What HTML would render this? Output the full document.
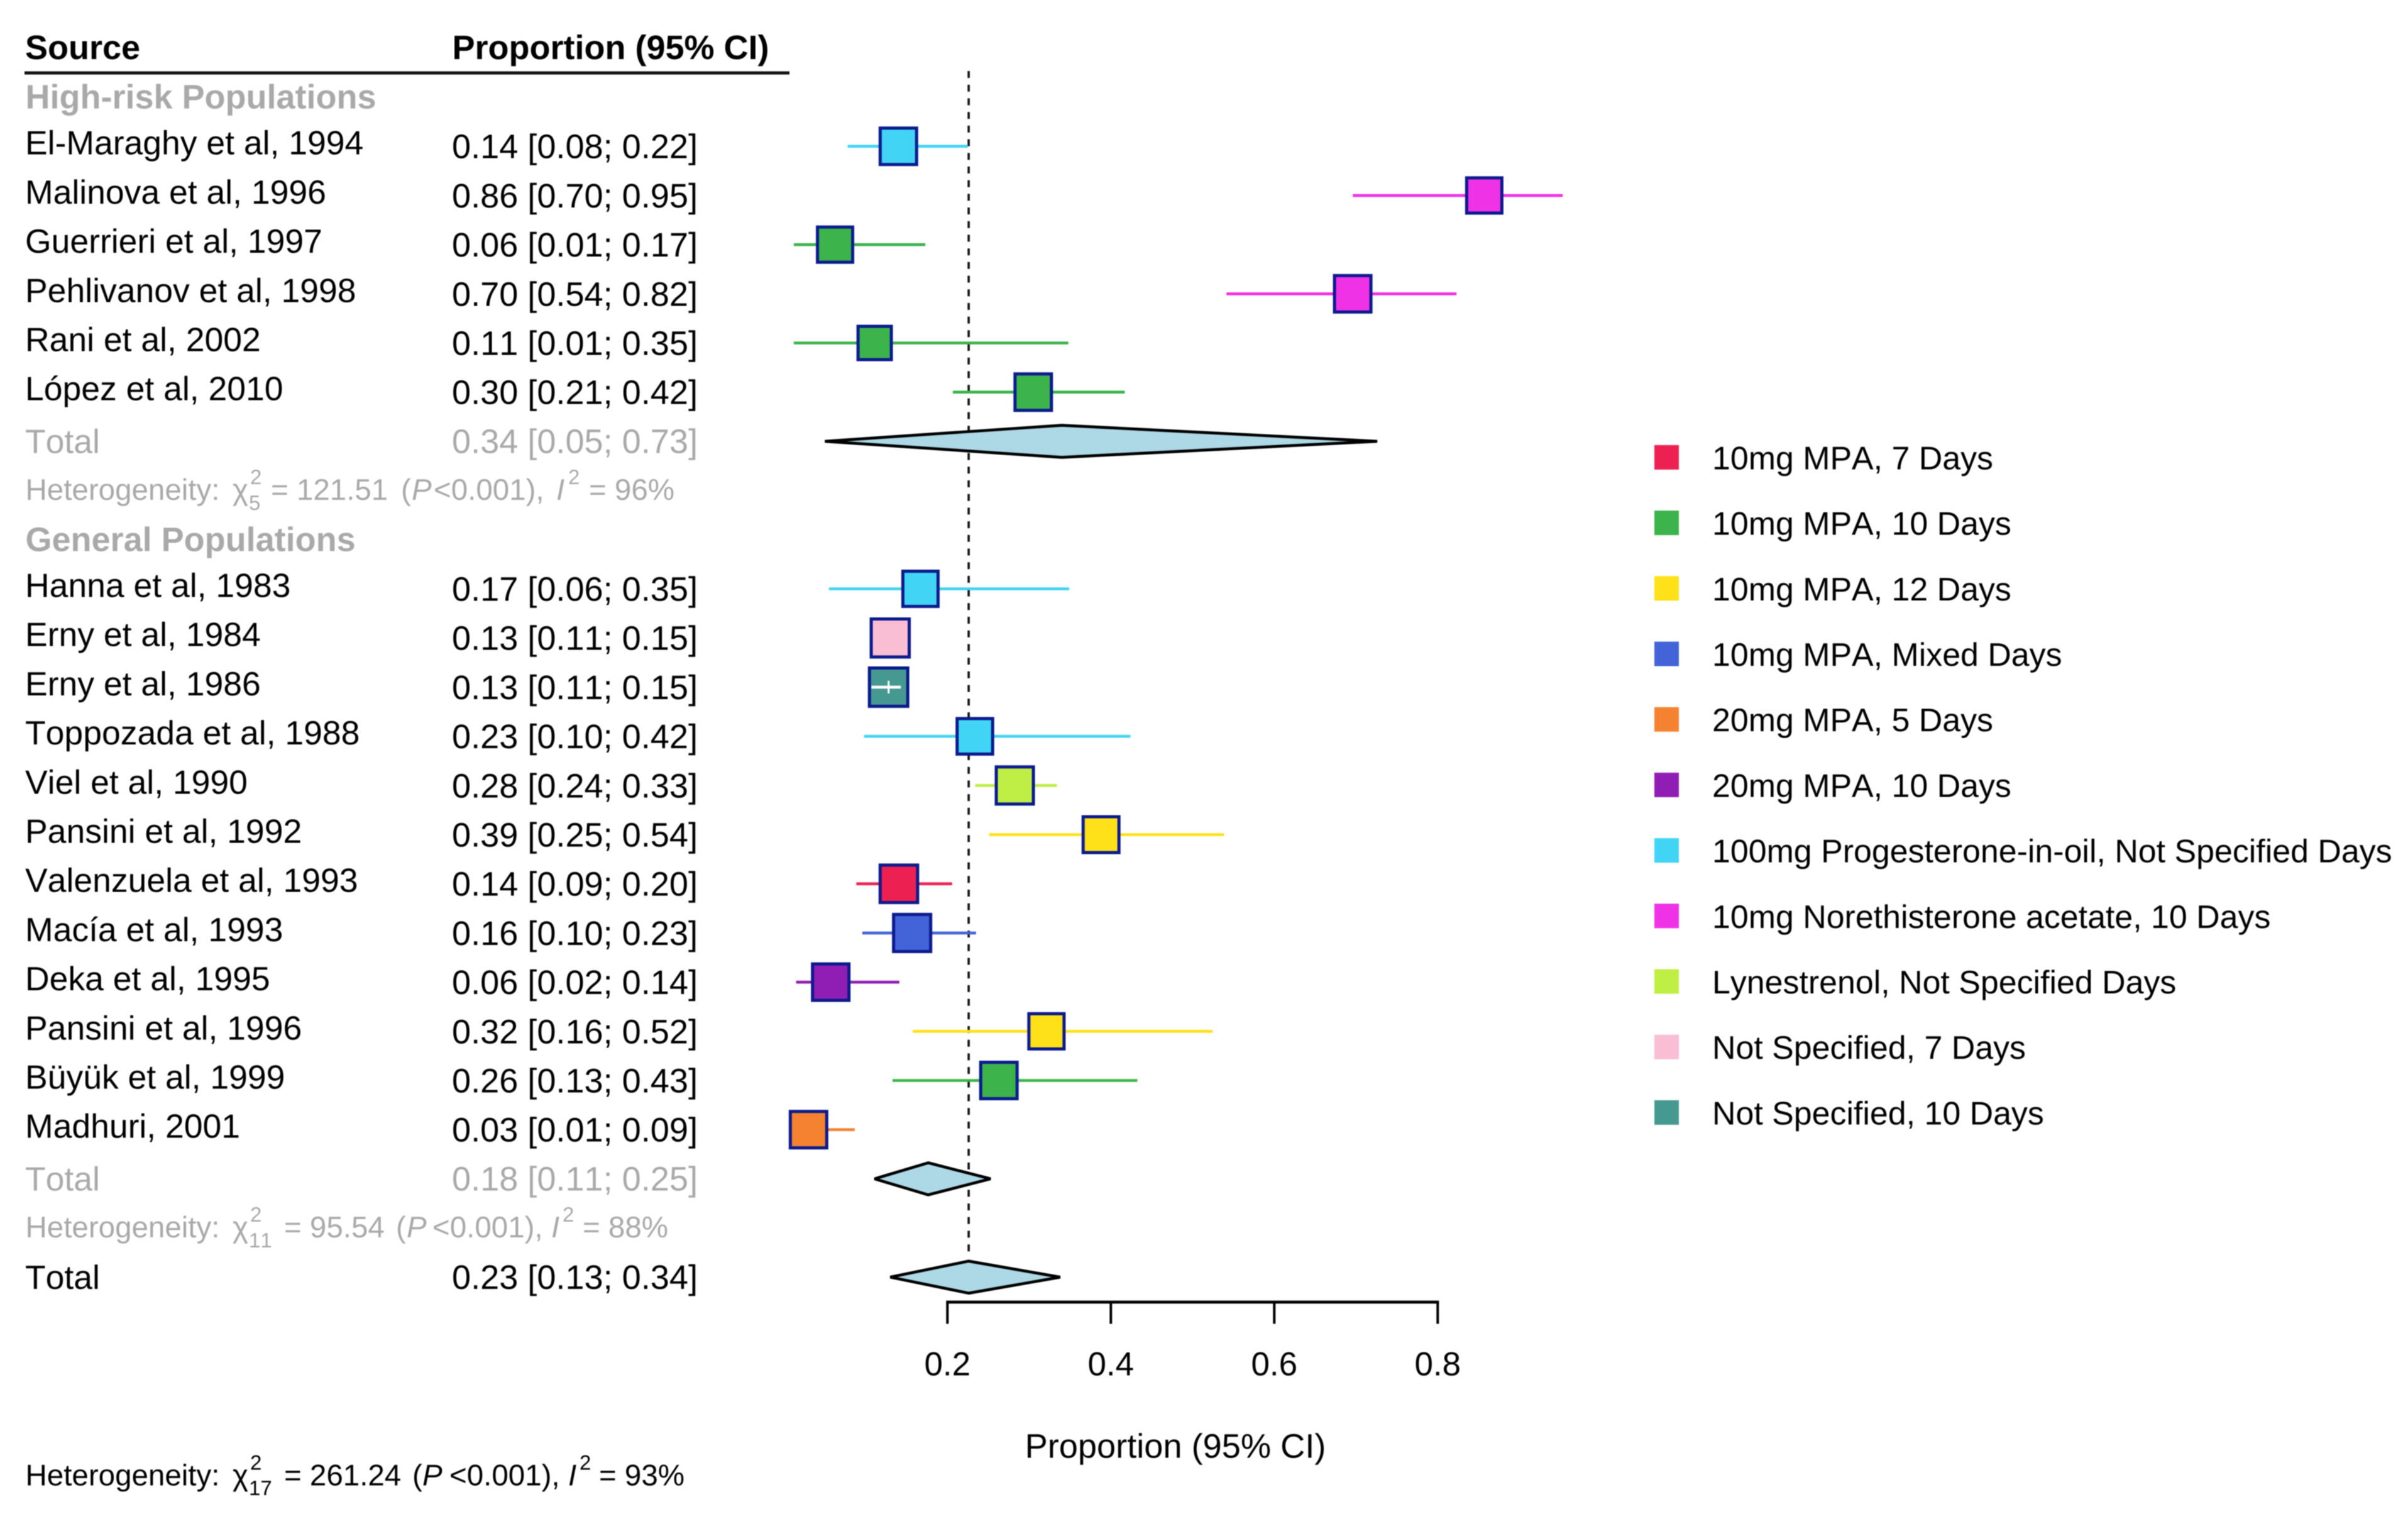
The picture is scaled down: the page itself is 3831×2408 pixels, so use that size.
<!DOCTYPE html>
<html lang="en">
<head>
<meta charset="utf-8">
<title>Forest plot of proportions</title>
<style>
html,body{margin:0;padding:0;background:#fff;}
svg{display:block;font-family:"Liberation Sans",sans-serif;text-rendering:geometricPrecision;font-kerning:none;filter:blur(0.8px);}
text{fill:#000;white-space:pre;}
.main{font-size:53.5px;}
.title{font-size:54.2px;}
.ci{font-size:54.1px;}
.head{font-size:54px;font-weight:700;}
.grey{fill:#a9a9a9;}
.het{font-size:47.5px;}
.mini{font-size:33px;}
.it{font-style:italic;}
.leg{font-size:51.9px;}
.tick{font-size:53px;text-anchor:middle;}
</style>
</head>
<body>
<svg id="chart" width="3831" height="2408" viewBox="0 0 3831 2408" xmlns="http://www.w3.org/2000/svg">
  <rect x="0" y="0" width="3831" height="2408" fill="#fff"/>
  <text class="head" x="40" y="94">Source</text>
  <text class="head" x="719.5" y="94">Proportion (95% CI)</text>
  <rect x="39" y="113.5" width="1217" height="5" fill="#111"/>

  <g class="het">
    <text class="grey" x="40.5" y="795">Heterogeneity:</text>
    <text class="grey" x="370" y="795">χ</text>
    <text class="grey mini" x="398" y="770">2</text>
    <text class="grey mini" x="396" y="811">5</text>
    <text class="grey" x="431" y="795">= 121.51</text>
    <text class="grey" x="638" y="795">(</text>
    <text class="grey it" x="655" y="795">P</text>
    <text class="grey" x="690" y="795">&lt;0.001),</text>
    <text class="grey it" x="885" y="795">I</text>
    <text class="grey mini" x="904" y="770">2</text>
    <text class="grey" x="937" y="795">= 96%</text>
  </g>
  <g class="het">
    <text class="grey" x="40.5" y="1968">Heterogeneity:</text>
    <text class="grey" x="370" y="1968">χ</text>
    <text class="grey mini" x="398" y="1943">2</text>
    <text class="grey mini" x="396" y="1984">11</text>
    <text class="grey" x="452" y="1968">= 95.54</text>
    <text class="grey" x="630" y="1968">(</text>
    <text class="grey it" x="647" y="1968">P</text>
    <text class="grey" x="688" y="1968">&lt;0.001),</text>
    <text class="grey it" x="877" y="1968">I</text>
    <text class="grey mini" x="895" y="1943">2</text>
    <text class="grey" x="927" y="1968">= 88%</text>
  </g>
  <g class="het">
    <text x="40.5" y="2362.5">Heterogeneity:</text>
    <text x="370" y="2362.5">χ</text>
    <text class="mini" x="398" y="2337.5">2</text>
    <text class="mini" x="396" y="2378">17</text>
    <text x="452" y="2362.5">= 261.24</text>
    <text x="656" y="2362.5">(</text>
    <text class="it" x="672" y="2362.5">P</text>
    <text x="715" y="2362.5">&lt;0.001),</text>
    <text class="it" x="904" y="2362.5">I</text>
    <text class="mini" x="922" y="2337.5">2</text>
    <text x="953" y="2362.5">= 93%</text>
  </g>
  <text class="title" x="1870" y="2318.5" text-anchor="middle">Proportion (95% CI)</text>
</svg>
<script>
// ---- data ----
const groupNames = ['High-risk Populations', 'General Populations'];
const groupOf = [0,0,0,0,0,0,1,1,1,1,1,1,1,1,1,1,1,1];
const studies = ['El-Maraghy et al, 1994','Malinova et al, 1996','Guerrieri et al, 1997','Pehlivanov et al, 1998','Rani et al, 2002','López et al, 2010','Hanna et al, 1983','Erny et al, 1984','Erny et al, 1986','Toppozada et al, 1988','Viel et al, 1990','Pansini et al, 1992','Valenzuela et al, 1993','Macía et al, 1993','Deka et al, 1995','Pansini et al, 1996','Büyük et al, 1999','Madhuri, 2001'];
const estimates = [0.14,0.857,0.0625,0.696,0.111,0.305,0.167,0.13,0.128,0.2336,0.2825,0.388,0.1406,0.1568,0.0572,0.3212,0.263,0.03];
const lowers = [0.078,0.696,0.012,0.5415,0.012,0.2066,0.055,0.11,0.107,0.098,0.234,0.251,0.0885,0.0958,0.0148,0.1576,0.1328,0.01];
const uppers = [0.225,0.953,0.173,0.823,0.348,0.417,0.349,0.155,0.143,0.424,0.334,0.5386,0.2058,0.235,0.1412,0.5245,0.4324,0.0866];
const weights = [5.6,5.26,5.26,5.6,4.75,5.6,5.26,6.06,6.15,5.35,5.8,5.43,5.9,5.8,5.6,5.26,5.6,5.6];
const treatments = [6,7,1,7,1,1,6,9,10,6,8,2,0,3,5,2,1,4];
const printedCI = ['0.14 [0.08; 0.22]','0.86 [0.70; 0.95]','0.06 [0.01; 0.17]','0.70 [0.54; 0.82]','0.11 [0.01; 0.35]','0.30 [0.21; 0.42]','0.17 [0.06; 0.35]','0.13 [0.11; 0.15]','0.13 [0.11; 0.15]','0.23 [0.10; 0.42]','0.28 [0.24; 0.33]','0.39 [0.25; 0.54]','0.14 [0.09; 0.20]','0.16 [0.10; 0.23]','0.06 [0.02; 0.14]','0.32 [0.16; 0.52]','0.26 [0.13; 0.43]','0.03 [0.01; 0.09]'];
const pooledEstimates = [0.34,0.1765,0.226];
const pooledLowers = [0.05,0.1108,0.13];
const pooledUppers = [0.726,0.2528,0.338];
const pooledCI = ['0.34 [0.05; 0.73]','0.18 [0.11; 0.25]','0.23 [0.13; 0.34]'];
const tickValues = [0.2,0.4,0.6,0.8];
const tickLabels = ['0.2','0.4','0.6','0.8'];
const treatmentNames = ['10mg MPA, 7 Days','10mg MPA, 10 Days','10mg MPA, 12 Days','10mg MPA, Mixed Days','20mg MPA, 5 Days','20mg MPA, 10 Days','100mg Progesterone-in-oil, Not Specified Days','10mg Norethisterone acetate, 10 Days','Lynestrenol, Not Specified Days','Not Specified, 7 Days','Not Specified, 10 Days'];
const treatmentColors = ['#ed2151','#3cb44b','#ffe119','#4363d8','#f58231','#911eb4','#42d4f4','#f032e6','#bfef45','#fabed4','#469990'];

// ---- scales ----
const xScale = v => 1507.3 + (v - 0.2) * 1300;
const rowY = n => 232.7 + 78.2 * (n - 1);
const boxSide = w => 26.6 * Math.sqrt(w);
const legendY = i => 727.4 + 104.2 * i;

const svg = document.getElementById('chart');
const NS = 'http://www.w3.org/2000/svg';
function make(tag, parent) {
  const el = document.createElementNS(NS, tag);
  (parent || svg).appendChild(el);
  return el;
}
function place(el, pairs) {
  for (const k in pairs) el.setAttribute(k, pairs[k]);
  return el;
}
function label(text, cls, x, y) {
  const el = make('text');
  el.setAttribute('class', cls);
  el.setAttribute('x', x);
  el.setAttribute('y', y);
  el.textContent = text;
  return el;
}

// row assignment: heading, studies, total, heterogeneity for each group
const studyRow = [];
const headingRow = [];
const totalRow = [];
(function () {
  let row = 0;
  groupNames.forEach((g, gi) => {
    headingRow[gi] = row;
    row += 1;
    groupOf.forEach((o, i) => {
      if (o === gi) {
        studyRow[i] = row;
        row += 1;
      }
    });
    totalRow[gi] = row;
    row += 2;
  });
  totalRow[groupNames.length] = row;
})();

// reference line at overall estimate
const refLine = make('line');


place(refLine, {x1: xScale(pooledEstimates[2]), x2: xScale(pooledEstimates[2]), y1: 113, y2: 1991, stroke: '#111', 'stroke-width': 3.6, 'stroke-dasharray': '11 10.7'});

// group headings
groupNames.forEach((g, gi) => {
  const t = label(g, 'head grey', 40.5, rowY(headingRow[gi]) + 18);
  
  
});

// studies
studies.forEach((s, i) => {
  const y = rowY(studyRow[i]);
  const name = label(s, 'main', 40, y + 13);
  
  
  const ci = label(printedCI[i], 'ci', 719, y + 19);
  
  

  const col = treatmentColors[treatments[i]];
  const side = boxSide(weights[i]);
  const cx = xScale(estimates[i]);
  const left = xScale(lowers[i]);
  const right = xScale(uppers[i]);
  const inside = left > cx - side / 2 + 4 && right < cx + side / 2 - 4;

  const line = make('line');
  
  
  place(line, {x1: left, x2: right, y1: y, y2: y, stroke: inside ? '#fff' : col, 'stroke-width': 4.6});

  const box = make('rect');
  
  
  place(box, {x: cx - side / 2 + 2.5, y: y - side / 2 + 2.5, width: side - 5, height: side - 5, fill: col, stroke: '#0b1a8c', 'stroke-width': 5});

  if (inside) {
    svg.appendChild(line);
    const tickMark = make('line');
    
    
    place(tickMark, {x1: cx, x2: cx, y1: y - 10, y2: y + 10, stroke: '#fff', 'stroke-width': 3});
  }
});

// pooled totals
pooledEstimates.forEach((e, i) => {
  const y = rowY(totalRow[i]);
  const cls = i < 2 ? ' grey' : '';
  const name = label('Total', 'main' + cls, 40, y + 18.5);
  
  
  const ci = label(pooledCI[i], 'ci' + cls, 719, y + 18.5);
  
  
  const d = make('polygon');
  
  
  const pts = [[xScale(pooledLowers[i]), y], [xScale(e), y - 25.5], [xScale(pooledUppers[i]), y], [xScale(e), y + 25.5]];
  place(d, {points: pts.map(p => p.join(',')).join(' '), fill: '#add8e6', stroke: '#000', 'stroke-width': 4.6, 'stroke-linejoin': 'bevel'});
});

// x axis
const axis = make('line');


place(axis, {x1: xScale(tickValues[0]) - 2, x2: xScale(tickValues[tickValues.length - 1]) + 2, y1: 2071, y2: 2071, stroke: '#000', 'stroke-width': 4.8});
tickValues.forEach((v, i) => {
  const t = make('line');
  
  
  place(t, {x1: xScale(v), x2: xScale(v), y1: 2071, y2: 2105.5, stroke: '#000', 'stroke-width': 4});
  const l = label(tickLabels[i], 'tick', xScale(v), 2187.5);
  
  
});

// legend
treatmentNames.forEach((n, i) => {
  const y = legendY(i);
  const sw = make('rect');
  
  
  place(sw, {x: 2632, y: y - 19.5, width: 39, height: 39, fill: treatmentColors[i]});
  const t = label(n, 'leg', 2724, y + 19);
  
  
});
</script>
</body>
</html>
